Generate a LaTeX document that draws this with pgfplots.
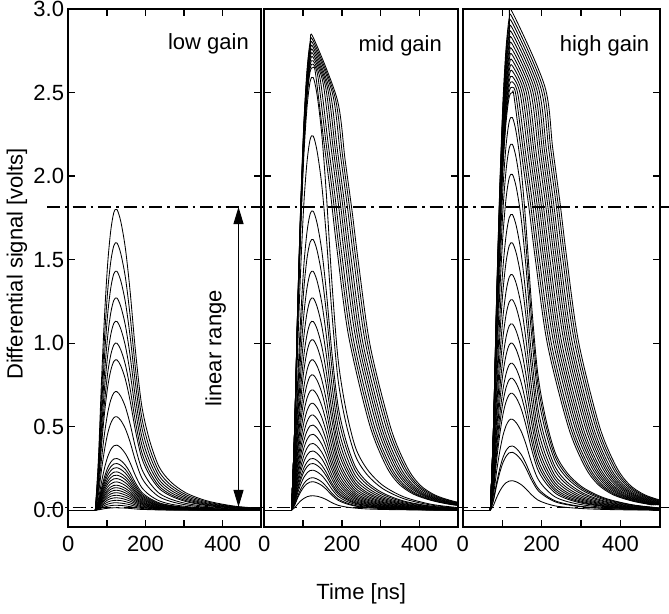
\documentclass[border=0pt]{standalone}
\usepackage{fontspec}
\setmainfont{Liberation Sans}
\usepackage{pgfplots}
\pgfplotsset{compat=1.18}
\usepackage{pgfplotstable}
\usetikzlibrary{arrows.meta}

% low gain: rows = time [ns], columns = pulses
\pgfplotstableread[header=false]{
70 0 0 0 0 0 0 0 0 0 0 0 0 0 0 0 0 0 0 0 0 0 0 0 0 0 0 0
78 0.306 0.272 0.243 0.216 0.192 0.170 0.153 0.121 0.095 0.066 0.053 0.048 0.043 0.039 0.036 0.032 0.029 0.026 0.023 0.020 0.018 0.015 0.013 0.010 0.008 0.005 0.003
86 0.774 0.688 0.615 0.546 0.486 0.430 0.387 0.305 0.241 0.168 0.133 0.120 0.110 0.099 0.090 0.082 0.073 0.065 0.058 0.052 0.045 0.039 0.032 0.026 0.019 0.013 0.006
94 1.170 1.040 0.930 0.826 0.735 0.650 0.585 0.462 0.364 0.254 0.202 0.182 0.166 0.150 0.137 0.124 0.111 0.098 0.088 0.078 0.068 0.059 0.049 0.039 0.029 0.020 0.010
102 1.476 1.312 1.173 1.041 0.927 0.820 0.738 0.582 0.459 0.320 0.254 0.230 0.209 0.189 0.172 0.156 0.139 0.123 0.111 0.098 0.086 0.074 0.062 0.049 0.037 0.025 0.012
110 1.674 1.488 1.330 1.181 1.051 0.930 0.837 0.660 0.521 0.363 0.288 0.260 0.237 0.214 0.195 0.177 0.158 0.140 0.126 0.112 0.098 0.084 0.070 0.056 0.042 0.028 0.014
118 1.782 1.584 1.416 1.257 1.119 0.990 0.891 0.703 0.554 0.386 0.307 0.277 0.252 0.228 0.208 0.188 0.168 0.149 0.134 0.119 0.104 0.089 0.074 0.059 0.045 0.030 0.015
126 1.80 1.60 1.43 1.27 1.13 1.00 0.90 0.71 0.56 0.39 0.31 0.28 0.255 0.23 0.21 0.19 0.17 0.15 0.135 0.12 0.105 0.09 0.075 0.06 0.045 0.03 0.015
136 1.728 1.536 1.373 1.219 1.085 0.960 0.864 0.682 0.538 0.374 0.298 0.269 0.245 0.221 0.202 0.182 0.163 0.144 0.130 0.115 0.101 0.086 0.072 0.058 0.043 0.029 0.014
148 1.566 1.392 1.244 1.105 0.983 0.870 0.783 0.618 0.487 0.339 0.270 0.244 0.222 0.200 0.183 0.165 0.148 0.131 0.117 0.104 0.091 0.078 0.065 0.052 0.039 0.026 0.013
160 1.314 1.168 1.044 0.927 0.825 0.730 0.657 0.518 0.409 0.285 0.226 0.204 0.186 0.168 0.153 0.139 0.124 0.110 0.099 0.088 0.077 0.066 0.055 0.044 0.033 0.022 0.011
174 0.954 0.848 0.758 0.673 0.599 0.530 0.477 0.376 0.297 0.207 0.164 0.148 0.135 0.122 0.111 0.101 0.090 0.080 0.072 0.064 0.056 0.048 0.040 0.032 0.024 0.016 0.008
190 0.630 0.560 0.501 0.445 0.396 0.350 0.315 0.249 0.196 0.137 0.109 0.098 0.089 0.081 0.074 0.067 0.060 0.053 0.047 0.042 0.037 0.032 0.026 0.021 0.016 0.011 0.005
210 0.423 0.376 0.336 0.298 0.266 0.235 0.212 0.167 0.132 0.092 0.073 0.066 0.060 0.054 0.049 0.045 0.040 0.035 0.032 0.028 0.025 0.021 0.018 0.014 0.011 0.007 0.004
235 0.261 0.232 0.207 0.184 0.164 0.145 0.131 0.103 0.081 0.057 0.045 0.041 0.037 0.033 0.030 0.028 0.025 0.022 0.020 0.017 0.015 0.013 0.011 0.009 0.007 0.004 0.002
265 0.171 0.152 0.136 0.121 0.107 0.095 0.086 0.067 0.053 0.037 0.029 0.027 0.024 0.022 0.020 0.018 0.016 0.014 0.013 0.011 0.010 0.009 0.007 0.006 0.004 0.003 0.001
305 0.104 0.093 0.083 0.074 0.066 0.058 0.052 0.041 0.032 0.023 0.018 0.016 0.015 0.013 0.012 0.011 0.010 0.009 0.008 0.007 0.006 0.005 0.004 0.003 0.003 0.002 0.001
360 0.056 0.050 0.044 0.039 0.035 0.031 0.028 0.022 0.017 0.012 0.010 0.009 0.008 0.007 0.007 0.006 0.005 0.005 0.004 0.004 0.003 0.003 0.002 0.002 0.001 0.001 0.000
430 0.025 0.022 0.020 0.018 0.016 0.014 0.013 0.010 0.008 0.005 0.004 0.004 0.004 0.003 0.003 0.003 0.002 0.002 0.002 0.002 0.001 0.001 0.001 0.001 0.001 0.000 0.000
500 0.011 0.010 0.009 0.008 0.007 0.006 0.005 0.004 0.003 0.002 0.002 0.002 0.002 0.001 0.001 0.001 0.001 0.001 0.001 0.001 0.001 0.001 0.000 0.000 0.000 0.000 0.000
}\lowtab

% mid gain, unsaturated pulses
\pgfplotstableread[header=false]{
70 0 0 0 0 0 0 0 0 0 0 0 0 0 0 0 0 0 0 0 0 0 0 0
78 0.440 0.381 0.304 0.275 0.243 0.216 0.192 0.173 0.153 0.138 0.122 0.109 0.097 0.087 0.077 0.068 0.060 0.053 0.048 0.041 0.033 0.029 0.015
86 1.114 0.963 0.770 0.697 0.615 0.546 0.486 0.439 0.387 0.348 0.310 0.275 0.245 0.219 0.196 0.172 0.153 0.133 0.120 0.103 0.084 0.074 0.037
94 1.684 1.456 1.164 1.053 0.930 0.826 0.735 0.663 0.585 0.527 0.468 0.416 0.371 0.332 0.296 0.260 0.231 0.202 0.182 0.156 0.127 0.111 0.057
102 2.124 1.837 1.468 1.328 1.173 1.041 0.927 0.836 0.738 0.664 0.590 0.525 0.467 0.418 0.373 0.328 0.291 0.254 0.230 0.197 0.160 0.140 0.071
110 2.409 2.083 1.665 1.507 1.330 1.181 1.051 0.949 0.837 0.753 0.670 0.595 0.530 0.474 0.423 0.372 0.330 0.288 0.260 0.223 0.181 0.159 0.081
118 2.564 2.218 1.772 1.604 1.416 1.257 1.119 1.010 0.891 0.802 0.713 0.634 0.564 0.505 0.450 0.396 0.351 0.307 0.277 0.238 0.193 0.169 0.086
126 2.59 2.24 1.79 1.62 1.43 1.27 1.13 1.02 0.90 0.81 0.72 0.64 0.57 0.51 0.455 0.40 0.355 0.31 0.28 0.24 0.195 0.171 0.087
136 2.486 2.150 1.718 1.555 1.373 1.219 1.085 0.979 0.864 0.778 0.691 0.614 0.547 0.490 0.437 0.384 0.341 0.298 0.269 0.230 0.187 0.164 0.084
148 2.253 1.949 1.557 1.409 1.244 1.105 0.983 0.887 0.783 0.705 0.626 0.557 0.496 0.444 0.396 0.348 0.309 0.270 0.244 0.209 0.170 0.149 0.076
160 1.891 1.635 1.307 1.183 1.044 0.927 0.825 0.745 0.657 0.591 0.526 0.467 0.416 0.372 0.332 0.292 0.259 0.226 0.204 0.175 0.142 0.125 0.064
174 1.373 1.187 0.949 0.859 0.758 0.673 0.599 0.541 0.477 0.429 0.382 0.339 0.302 0.270 0.241 0.212 0.188 0.164 0.148 0.127 0.103 0.091 0.046
190 0.907 0.784 0.627 0.567 0.501 0.445 0.396 0.357 0.315 0.284 0.252 0.224 0.200 0.179 0.159 0.140 0.124 0.109 0.098 0.084 0.068 0.060 0.030
210 0.609 0.526 0.421 0.381 0.336 0.298 0.266 0.240 0.212 0.190 0.169 0.150 0.134 0.120 0.107 0.094 0.083 0.073 0.066 0.056 0.046 0.040 0.020
235 0.376 0.325 0.260 0.235 0.207 0.184 0.164 0.148 0.131 0.117 0.104 0.093 0.083 0.074 0.066 0.058 0.051 0.045 0.041 0.035 0.028 0.025 0.013
265 0.246 0.213 0.170 0.154 0.136 0.121 0.107 0.097 0.086 0.077 0.068 0.061 0.054 0.048 0.043 0.038 0.034 0.029 0.027 0.023 0.019 0.016 0.008
305 0.150 0.130 0.104 0.094 0.083 0.074 0.066 0.059 0.052 0.047 0.042 0.037 0.033 0.030 0.026 0.023 0.021 0.018 0.016 0.014 0.011 0.010 0.005
360 0.080 0.069 0.055 0.050 0.044 0.039 0.035 0.032 0.028 0.025 0.022 0.020 0.018 0.016 0.014 0.012 0.011 0.010 0.009 0.007 0.006 0.005 0.003
430 0.036 0.031 0.025 0.023 0.020 0.018 0.016 0.014 0.013 0.011 0.010 0.009 0.008 0.007 0.006 0.006 0.005 0.004 0.004 0.003 0.003 0.002 0.001
500 0.016 0.013 0.011 0.010 0.009 0.008 0.007 0.006 0.005 0.005 0.004 0.004 0.003 0.003 0.003 0.002 0.002 0.002 0.002 0.001 0.001 0.001 0.001
}\midtab

% high gain, unsaturated pulses
\pgfplotstableread[header=false]{
70 0 0 0 0 0 0 0 0 0 0 0 0 0 0 0 0
78 0.400 0.372 0.342 0.301 0.272 0.240 0.214 0.190 0.170 0.150 0.134 0.119 0.093 0.065 0.059 0.030
86 1.011 0.942 0.864 0.761 0.688 0.606 0.542 0.479 0.430 0.378 0.340 0.301 0.234 0.166 0.149 0.076
94 1.528 1.424 1.307 1.151 1.040 0.917 0.819 0.725 0.650 0.572 0.514 0.455 0.354 0.250 0.226 0.115
102 1.927 1.796 1.648 1.451 1.312 1.156 1.033 0.914 0.820 0.722 0.648 0.574 0.447 0.316 0.285 0.145
110 2.186 2.037 1.869 1.646 1.488 1.311 1.172 1.037 0.930 0.818 0.735 0.651 0.507 0.358 0.323 0.165
118 2.327 2.168 1.990 1.752 1.584 1.396 1.247 1.104 0.990 0.871 0.782 0.693 0.540 0.381 0.344 0.175
126 2.35 2.19 2.01 1.77 1.60 1.41 1.26 1.115 1.00 0.88 0.79 0.70 0.545 0.385 0.347 0.177
136 2.256 2.102 1.930 1.699 1.536 1.354 1.210 1.070 0.960 0.845 0.758 0.672 0.523 0.370 0.333 0.170
148 2.045 1.905 1.749 1.540 1.392 1.227 1.096 0.970 0.870 0.766 0.687 0.609 0.474 0.335 0.302 0.154
160 1.716 1.599 1.467 1.292 1.168 1.029 0.920 0.814 0.730 0.642 0.577 0.511 0.398 0.281 0.253 0.129
174 1.246 1.161 1.065 0.938 0.848 0.747 0.668 0.591 0.530 0.466 0.419 0.371 0.289 0.204 0.184 0.094
190 0.823 0.767 0.704 0.620 0.560 0.494 0.441 0.390 0.350 0.308 0.277 0.245 0.191 0.135 0.121 0.062
210 0.552 0.515 0.472 0.416 0.376 0.331 0.296 0.262 0.235 0.207 0.186 0.165 0.128 0.090 0.082 0.042
235 0.341 0.318 0.291 0.257 0.232 0.204 0.183 0.162 0.145 0.128 0.115 0.102 0.079 0.056 0.050 0.026
265 0.223 0.208 0.191 0.168 0.152 0.134 0.120 0.106 0.095 0.084 0.075 0.067 0.052 0.037 0.033 0.017
305 0.136 0.127 0.117 0.103 0.093 0.082 0.073 0.065 0.058 0.051 0.046 0.041 0.032 0.022 0.020 0.010
360 0.073 0.068 0.062 0.055 0.050 0.044 0.039 0.035 0.031 0.027 0.024 0.022 0.017 0.012 0.011 0.005
430 0.033 0.031 0.028 0.025 0.022 0.020 0.018 0.016 0.014 0.012 0.011 0.010 0.008 0.005 0.005 0.002
500 0.014 0.013 0.012 0.011 0.010 0.008 0.008 0.007 0.006 0.005 0.005 0.004 0.003 0.002 0.002 0.001
}\hightab

\newcommand{\bigfont}{\fontsize{22}{26}\selectfont}

\pgfplotsset{
  panel/.style={
    scale only axis, height=518pt,
    xmin=0, xmax=500, ymin=-0.1, ymax=3.0,
    xtick={0,100,200,300,400}, xticklabels={0,,200,,400},
    ytick={0,0.5,1,1.5,2,2.5,3},
    tick align=inside, xtick pos=both, ytick pos=both,
    major tick length=7pt,
    major tick style={black, line width=1.3pt},
    line width=1.8pt,
    axis line style={black, line width=1.8pt},
    tick label style={font=\bigfont},
    xticklabel style={yshift=-4.5pt},
    label style={font=\bigfont},
    /pgf/number format/assume math mode=true,
    clip=true,
  },
  pulse/.style={black, line width=0.85pt, smooth, mark=none},
  base/.style={black, line width=1.3pt, mark=none},
}

\begin{document}
\begin{tikzpicture}
\path[use as bounding box] (-68.3pt,-86pt) rectangle (600.7pt,527pt);

% ---------------- low gain ----------------
\begin{axis}[panel, width=193pt, at={(0pt,0pt)}, anchor=south west,
  yticklabels={0.0,0.5,1.0,1.5,2.0,2.5,3.0},
  ylabel={Differential signal [volts]},
  ylabel style={at={(axis description cs:-0.266,0.508)}, anchor=center}]
  \addplot[base] coordinates {(0,0) (70,0)};
  \pgfplotsinvokeforeach{1,...,27}{
    \addplot[pulse] table[x index=0, y index=#1] {\lowtab};
  }
  \draw[{Triangle[length=17pt,width=10pt]}-{Triangle[length=17pt,width=10pt]}, line width=1pt]
    (axis cs:441,0.02) -- (axis cs:441,1.815);
  \node[font=\bigfont, inner sep=0, anchor=base east] at (axis cs:470,2.76) {low gain};
  \node[font=\bigfont, inner sep=0, rotate=90] at (axis cs:382,0.97) {linear range};
  \coordinate (U1) at (axis cs:-55,1.815);
  \coordinate (U2) at (axis cs:1556,1.815);
  \coordinate (L1) at (axis cs:-55,0.018);
  \coordinate (L2) at (axis cs:1556,0.018);
\end{axis}

% ---------------- mid gain ----------------
\begin{axis}[panel, width=194pt, at={(196pt,0pt)}, anchor=south west,
  yticklabel=\empty,
  xlabel={Time [ns]},
  xlabel style={at={(axis description cs:0.5,-0.139)}, anchor=base}]
  \addplot[base] coordinates {(0,0) (70,0)};
  \pgfplotsinvokeforeach{1,...,23}{
    \addplot[pulse] table[x index=0, y index=#1] {\midtab};
  }
  % saturated pulses
  \addplot[pulse] coordinates {(70,0)(78,0.451)(86,1.140)(94,1.723)(102,2.173)(110,2.465)(118,2.624)(126,2.650)(132,2.614)(152,2.235)(170,1.908)(187,1.568)(217,1.046)(270,0.523)(312,0.274)(345,0.162)(384,0.097)(432,0.058)(482,0.034)(532,0.021)};
  \addplot[pulse] coordinates {(70,0)(78,0.454)(86,1.148)(94,1.736)(102,2.189)(110,2.483)(118,2.643)(126,2.670)(138,2.597)(158,2.220)(176,1.896)(193,1.558)(223,1.039)(276,0.519)(318,0.273)(351,0.161)(390,0.096)(438,0.057)(488,0.034)(538,0.021)};
  \addplot[pulse] coordinates {(70,0)(78,0.457)(86,1.157)(94,1.749)(102,2.206)(110,2.502)(118,2.663)(126,2.690)(144,2.580)(164,2.206)(182,1.883)(199,1.548)(229,1.032)(282,0.516)(324,0.271)(357,0.160)(396,0.095)(444,0.057)(494,0.034)(544,0.021)};
  \addplot[pulse] coordinates {(70,0)(78,0.461)(86,1.165)(94,1.762)(102,2.222)(110,2.520)(118,2.683)(126,2.710)(151,2.562)(171,2.191)(189,1.870)(206,1.537)(236,1.025)(289,0.512)(331,0.269)(364,0.159)(403,0.095)(451,0.056)(501,0.033)};
  \addplot[pulse] coordinates {(70,0)(78,0.464)(86,1.174)(94,1.775)(102,2.239)(110,2.539)(118,2.703)(126,2.730)(157,2.545)(177,2.176)(195,1.858)(212,1.527)(242,1.018)(295,0.509)(337,0.267)(370,0.158)(409,0.094)(457,0.056)(507,0.033)};
  \addplot[pulse] coordinates {(70,0)(78,0.468)(86,1.183)(94,1.788)(102,2.255)(110,2.558)(118,2.723)(126,2.750)(163,2.527)(183,2.161)(201,1.845)(218,1.516)(248,1.011)(301,0.505)(343,0.265)(376,0.157)(415,0.093)(463,0.056)(513,0.033)};
  \addplot[pulse] coordinates {(70,0)(78,0.471)(86,1.191)(94,1.801)(102,2.271)(110,2.576)(118,2.742)(126,2.770)(169,2.510)(189,2.146)(207,1.832)(224,1.506)(254,1.004)(307,0.502)(349,0.264)(382,0.156)(421,0.093)(469,0.055)(519,0.033)};
  \addplot[pulse] coordinates {(70,0)(78,0.474)(86,1.200)(94,1.814)(102,2.288)(110,2.595)(118,2.762)(126,2.790)(176,2.492)(196,2.131)(214,1.819)(231,1.495)(261,0.997)(314,0.498)(356,0.262)(389,0.155)(428,0.092)(476,0.055)(526,0.032)};
  \addplot[pulse] coordinates {(70,0)(78,0.478)(86,1.208)(94,1.827)(102,2.304)(110,2.613)(118,2.782)(126,2.810)(182,2.475)(202,2.116)(220,1.807)(237,1.485)(267,0.990)(320,0.495)(362,0.260)(395,0.153)(434,0.092)(482,0.054)(532,0.032)};
  \addplot[pulse] coordinates {(70,0)(78,0.481)(86,1.217)(94,1.840)(102,2.321)(110,2.632)(118,2.802)(126,2.830)(188,2.458)(208,2.102)(226,1.794)(243,1.475)(273,0.983)(326,0.492)(368,0.258)(401,0.152)(440,0.091)(488,0.054)(538,0.032)};
  \node[font=\bigfont, inner sep=0, anchor=base east] at (axis cs:460,2.744) {mid gain};
\end{axis}

% ---------------- high gain ----------------
\begin{axis}[panel, width=197.3pt, at={(394.4pt,0pt)}, anchor=south west,
  yticklabel=\empty]
  \addplot[base] coordinates {(0,0) (70,0)};
  \pgfplotsinvokeforeach{1,...,16}{
    \addplot[pulse] table[x index=0, y index=#1] {\hightab};
  }
  % saturated pulses
  \addplot[pulse] coordinates {(70,0)(78,0.425)(86,1.075)(94,1.625)(102,2.050)(110,2.325)(118,2.475)(126,2.500)(130,2.478)(150,2.119)(168,1.809)(185,1.487)(215,0.991)(268,0.496)(310,0.260)(343,0.154)(382,0.092)(430,0.055)(480,0.032)};
  \addplot[pulse] coordinates {(70,0)(78,0.430)(86,1.089)(94,1.646)(102,2.076)(110,2.355)(118,2.507)(126,2.532)(135,2.483)(155,2.123)(173,1.813)(190,1.490)(220,0.993)(273,0.497)(315,0.261)(348,0.154)(387,0.092)(435,0.055)(485,0.032)};
  \addplot[pulse] coordinates {(70,0)(78,0.436)(86,1.103)(94,1.667)(102,2.102)(110,2.385)(118,2.538)(126,2.564)(140,2.488)(160,2.127)(178,1.816)(195,1.493)(225,0.995)(278,0.498)(320,0.261)(353,0.154)(392,0.092)(440,0.055)(490,0.032)};
  \addplot[pulse] coordinates {(70,0)(78,0.441)(86,1.116)(94,1.687)(102,2.129)(110,2.414)(118,2.570)(126,2.596)(146,2.488)(166,2.127)(184,1.816)(201,1.493)(231,0.995)(284,0.498)(326,0.261)(359,0.154)(398,0.092)(446,0.055)(496,0.032)};
  \addplot[pulse] coordinates {(70,0)(78,0.447)(86,1.130)(94,1.708)(102,2.155)(110,2.444)(118,2.602)(126,2.628)(151,2.493)(171,2.132)(189,1.820)(206,1.496)(236,0.997)(289,0.499)(331,0.262)(364,0.155)(403,0.092)(451,0.055)(501,0.032)};
  \addplot[pulse] coordinates {(70,0)(78,0.452)(86,1.144)(94,1.729)(102,2.181)(110,2.474)(118,2.633)(126,2.660)(156,2.498)(176,2.136)(194,1.824)(211,1.499)(241,0.999)(294,0.500)(336,0.262)(369,0.155)(408,0.092)(456,0.055)(506,0.032)};
  \addplot[pulse] coordinates {(70,0)(78,0.458)(86,1.158)(94,1.750)(102,2.207)(110,2.504)(118,2.665)(126,2.692)(161,2.503)(181,2.140)(199,1.827)(216,1.502)(246,1.001)(299,0.501)(341,0.263)(374,0.155)(413,0.093)(461,0.055)(511,0.033)};
  \addplot[pulse] coordinates {(70,0)(78,0.463)(86,1.171)(94,1.771)(102,2.234)(110,2.533)(118,2.697)(126,2.724)(166,2.508)(186,2.144)(204,1.831)(221,1.505)(251,1.003)(304,0.502)(346,0.263)(379,0.155)(418,0.093)(466,0.055)(516,0.033)};
  \addplot[pulse] coordinates {(70,0)(78,0.469)(86,1.185)(94,1.791)(102,2.260)(110,2.563)(118,2.728)(126,2.756)(172,2.508)(192,2.144)(210,1.831)(227,1.505)(257,1.003)(310,0.502)(352,0.263)(385,0.155)(424,0.093)(472,0.055)(522,0.033)};
  \addplot[pulse] coordinates {(70,0)(78,0.474)(86,1.199)(94,1.812)(102,2.286)(110,2.593)(118,2.760)(126,2.788)(177,2.513)(197,2.149)(215,1.834)(232,1.508)(262,1.005)(315,0.503)(357,0.264)(390,0.156)(429,0.093)(477,0.055)(527,0.033)};
  \addplot[pulse] coordinates {(70,0)(78,0.479)(86,1.213)(94,1.833)(102,2.312)(110,2.623)(118,2.792)(126,2.820)(182,2.518)(202,2.153)(220,1.838)(237,1.511)(267,1.007)(320,0.504)(362,0.264)(395,0.156)(434,0.093)(482,0.055)(532,0.033)};
  \addplot[pulse] coordinates {(70,0)(78,0.485)(86,1.226)(94,1.854)(102,2.339)(110,2.652)(118,2.823)(126,2.852)(187,2.523)(207,2.157)(225,1.842)(242,1.514)(272,1.009)(325,0.505)(367,0.265)(400,0.156)(439,0.093)(487,0.056)(537,0.033)};
  \addplot[pulse] coordinates {(70,0)(78,0.490)(86,1.240)(94,1.875)(102,2.365)(110,2.682)(118,2.855)(126,2.884)(192,2.528)(212,2.161)(230,1.845)(247,1.517)(277,1.011)(330,0.506)(372,0.265)(405,0.157)(444,0.094)(492,0.056)(542,0.033)};
  \addplot[pulse] coordinates {(70,0)(78,0.496)(86,1.254)(94,1.895)(102,2.391)(110,2.712)(118,2.887)(126,2.916)(198,2.527)(218,2.161)(236,1.845)(253,1.517)(283,1.011)(336,0.506)(378,0.265)(411,0.157)(450,0.094)(498,0.056)(548,0.033)};
  \addplot[pulse] coordinates {(70,0)(78,0.501)(86,1.268)(94,1.916)(102,2.417)(110,2.742)(118,2.919)(126,2.948)(203,2.532)(223,2.165)(241,1.848)(258,1.519)(288,1.013)(341,0.506)(383,0.266)(416,0.157)(455,0.094)(503,0.056)(553,0.033)};
  \addplot[pulse] coordinates {(70,0)(78,0.507)(86,1.281)(94,1.937)(102,2.444)(110,2.771)(118,2.950)(126,2.980)(208,2.537)(228,2.169)(246,1.852)(263,1.522)(293,1.015)(346,0.507)(388,0.266)(421,0.157)(460,0.094)(508,0.056)(558,0.033)};
  \node[font=\bigfont, inner sep=0, anchor=base east] at (axis cs:475,2.744) {high gain};
\end{axis}

% dash-dot reference lines across all panels
\draw[black, line width=1.2pt, dash pattern=on 13pt off 5pt on 2.5pt off 5pt] (U1) -- (U2);
\draw[black, line width=1.2pt, dash pattern=on 13pt off 5pt on 2.5pt off 5pt] (L1) -- (L2);
\end{tikzpicture}
\end{document}
